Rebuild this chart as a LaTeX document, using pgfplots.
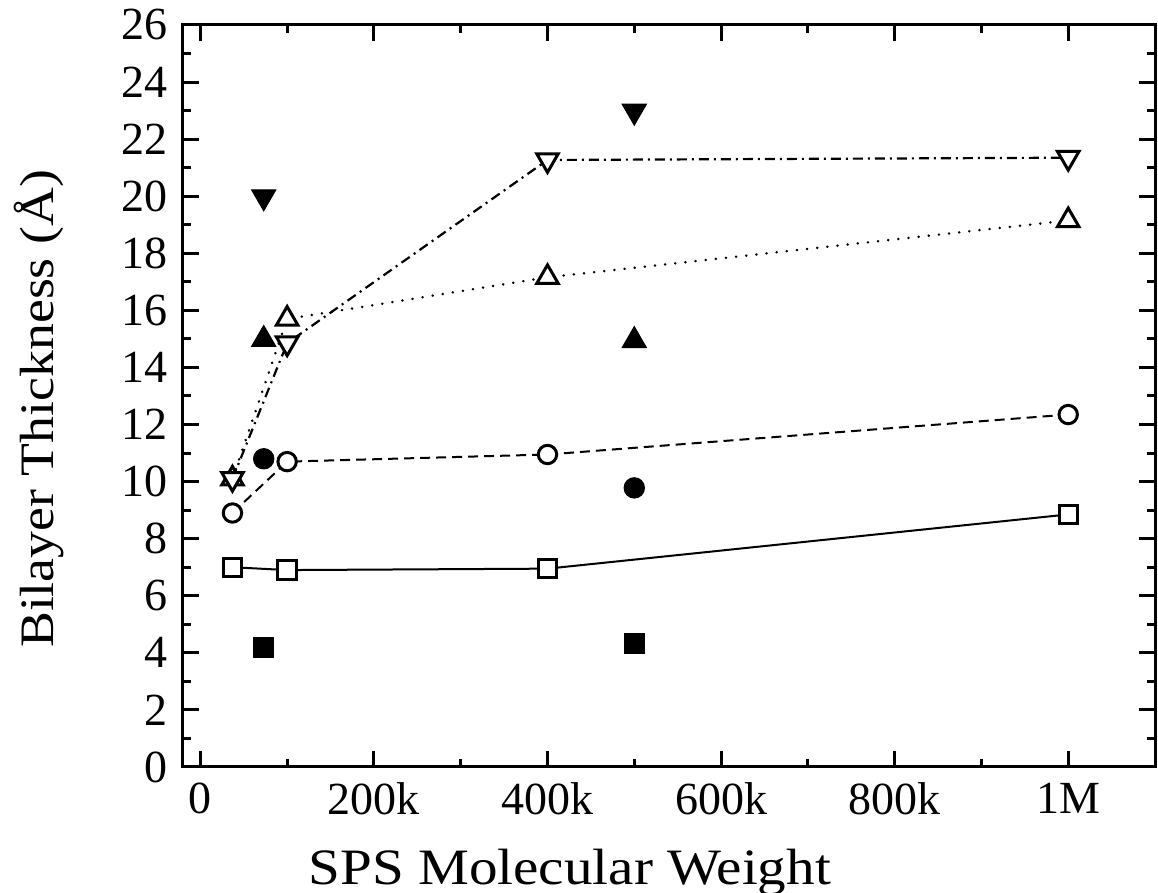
\documentclass[border=0pt]{standalone}
\usepackage{pgfplots}
\pgfplotsset{compat=1.18}
\usepackage{fontspec}
\setmainfont{Liberation Serif}
\newfontfamily\labelfont[FakeStretch=1.12]{Liberation Serif}
\usetikzlibrary{calc}
\begin{document}
\fontsize{23}{27}\selectfont
\begin{tikzpicture}
\begin{axis}[
  scale only axis, width=486pt, height=371pt,
  xmin=-20000, xmax=1100000, ymin=0, ymax=26,
  xtick={0,200000,400000,600000,800000,1000000},
  xticklabels={0,200k,400k,600k,800k,1M},
  minor xtick={100000,300000,500000,700000,900000},
  ytick={0,2,...,26}, minor ytick={1,3,...,25},
  scaled x ticks=false,
  tick align=inside, major tick length=8pt, minor tick length=4pt,
  every tick/.style={black, line width=1.5pt},
  axis line style={line width=1.5pt},
  /pgf/number format/assume math mode=true,
  tick label style={font=\fontsize{23}{27}\selectfont},
  xlabel={SPS Molecular Weight},
  ylabel={Bilayer Thickness (Å)},
  xlabel style={font=\labelfont\fontsize{25.5}{30}\selectfont, at={(axis description cs:0.398,-0.159)}, anchor=base},
  ylabel style={font=\labelfont\fontsize{24}{28}\selectfont, at={(axis description cs:-0.1337,0.4825)}, anchor=base},
  clip=false,
]
% open squares, solid
\addplot[black, line width=1pt, mark=square*, mark size=4.6pt,
  mark options={solid, fill=white, line width=1.5pt}]
  coordinates {(37000,7.0) (100000,6.9) (400000,6.95) (1000000,8.85)};
% open circles, dashed
\addplot[black, line width=1pt, dash pattern=on 5pt off 3pt, mark=*, mark size=4.6pt,
  mark options={solid, fill=white, line width=1.5pt}]
  coordinates {(37000,8.9) (100000,10.7) (400000,10.95) (1000000,12.35)};
% open up triangles, dotted
\addplot[black, line width=1.3pt, dash pattern=on 0.1pt off 5pt, line cap=round, mark=triangle*, mark size=6.2pt,
  mark options={solid, fill=white, line width=1.5pt, line cap=butt}]
  coordinates {(37000,10.1) (100000,15.7) (400000,17.16) (1000000,19.15)};
% open down triangles, dash-dot
\addplot[black, line width=1.1pt, dash pattern=on 5pt off 2.5pt on 1pt off 2.5pt, mark=triangle*, mark size=6.2pt,
  mark options={solid, fill=white, line width=1.5pt, rotate=180}]
  coordinates {(37000,10.1) (100000,14.85) (400000,21.27) (1000000,21.35)};
% filled squares
\addplot[black, only marks, mark=square*, mark size=5pt, mark options={fill=black, line width=0.5pt}]
  coordinates {(73000,4.17) (500000,4.34)};
% filled circles
\addplot[black, only marks, mark=*, mark size=5.1pt, mark options={fill=black, line width=0.5pt}]
  coordinates {(73000,10.8) (500000,9.78)};
% filled up triangles
\addplot[black, only marks, mark=triangle*, mark size=7pt, mark options={fill=black, line width=0.5pt}]
  coordinates {(73000,14.98) (500000,14.94)};
% filled down triangles
\addplot[black, only marks, mark=triangle*, mark size=7pt, mark options={fill=black, line width=0.5pt, rotate=180}]
  coordinates {(73000,19.98) (500000,22.98)};
\end{axis}
\pgfresetboundingbox
\path ($(current axis.south west)+(-91.5pt,-63pt)$) rectangle ($(current axis.north east)+(1.5pt,12.5pt)$);
\end{tikzpicture}
\end{document}
